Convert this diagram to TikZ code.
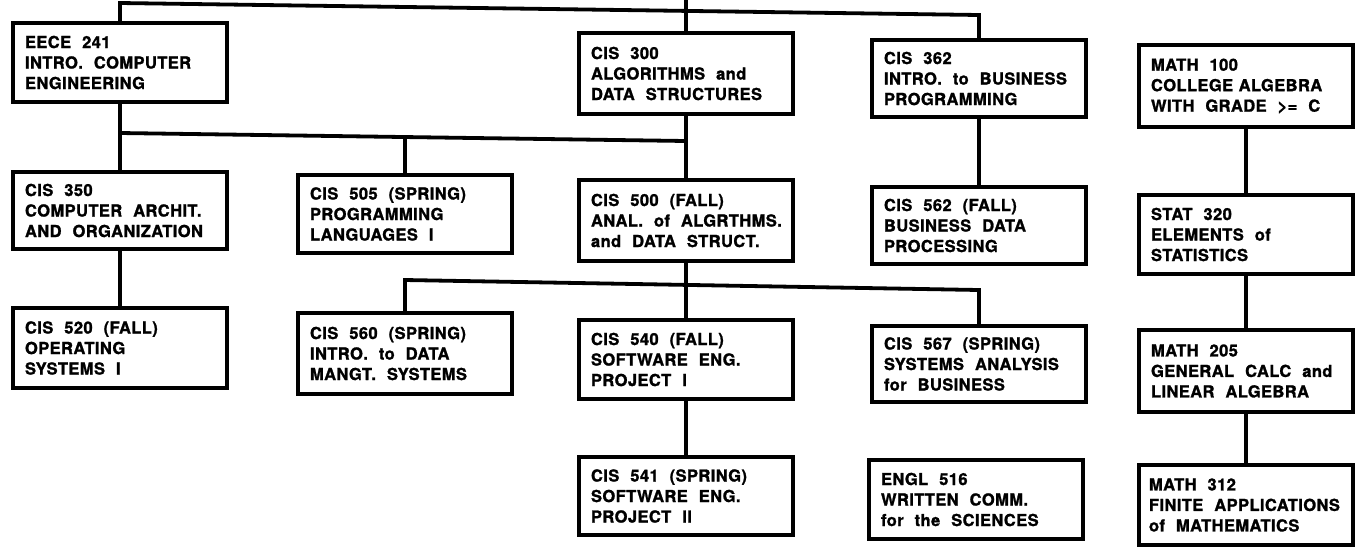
\documentclass[tikz,border=0pt]{standalone}
\usepackage{fontspec}
\setmainfont[LetterSpace=2.5,WordSpace=1.8,BoldFeatures={FakeBold=1.4}]{TeX Gyre Heros}
\hyphenpenalty=10000
\exhyphenpenalty=10000
\begin{document}
\begin{tikzpicture}[x=1pt,y=-1pt,
  box/.style={draw, line width=4pt, rectangle, anchor=north,
    inner xsep=12pt, inner ysep=3pt, align=left, text width=190pt,
    font=\fontsize{16.5}{20.5}\selectfont\bfseries},
  conn/.style={line width=3.2pt},
  bus/.style={line width=3.8pt, line join=miter}]
\useasboundingbox (0,0) rectangle (1356,550);

% first row
\node[box, minimum height=79pt] (eece) at (120,21) {EECE~~241\\INTRO.~~COMPUTER\\ENGINEERING};
\node[box, minimum height=81pt] (c300) at (686,31) {CIS~~300\\ALGORITHMS~~and\\DATA~~STRUCTURES};
\node[box, minimum height=77pt] (c362) at (979,38) {CIS~~362\\INTRO.~~to~~BUSINESS\\PROGRAMMING};
\node[box, minimum height=82pt] (m100) at (1246,43) {MATH~~100\\COLLEGE~ALGEBRA\\WITH~~GRADE~~>=~~C};

% second row
\node[box, minimum height=77pt] (c350) at (120,170) {CIS~~350\\COMPUTER~~ARCHIT.\\AND~~ORGANIZATION};
\node[box, minimum height=78pt] (c505) at (405,173) {CIS~~505~~(SPRING)\\PROGRAMMING\\LANGUAGES~~I};
\node[box, minimum height=81pt] (c500) at (686,178) {CIS~~500~~(FALL)\\\mbox{ANAL.~~of~~ALGRTHMS.}\\and~~DATA~~STRUCT.};
\node[box, minimum height=77pt] (c562) at (979,185) {CIS~~562~~(FALL)\\BUSINESS~~DATA\\PROCESSING};
\node[box, minimum height=79pt] (s320) at (1246,193) {STAT~~320\\ELEMENTS~~of\\STATISTICS};

% third row
\node[box, minimum height=80pt] (c520) at (120,306) {CIS~~520~~(FALL)\\OPERATING\\SYSTEMS~~I};
\node[box, minimum height=81pt] (c560) at (405,311) {CIS~~560~~(SPRING)\\INTRO.~~to~~DATA\\MANGT.~~SYSTEMS};
\node[box, minimum height=79pt] (c540) at (686,318) {CIS~~540~~(FALL)\\SOFTWARE~~ENG.\\PROJECT~~I};
\node[box, minimum height=76pt] (c567) at (979,324) {CIS~~567~~(SPRING)\\SYSTEMS~~ANALYSIS\\for~~BUSINESS};
\node[box, minimum height=82pt] (m205) at (1246,328) {MATH~~205\\GENERAL~~CALC~~and\\LINEAR~~ALGEBRA};

% fourth row
\node[box, minimum height=78pt] (c541) at (686,455) {CIS~~541~~(SPRING)\\SOFTWARE~~ENG.\\PROJECT~~II};
\node[box, minimum height=79pt] (e516) at (976,458) {ENGL~~516\\WRITTEN~~COMM.\\for~~the~~SCIENCES};
\node[box, minimum height=80pt, inner xsep=10pt, text width=194pt] (m312) at (1246,463) {MATH~~312\\\mbox{FINITE~~APPLICATIONS}\\of~~MATHEMATICS};

% bus junctions
\coordinate (root) at (686,0);
\coordinate (tA) at (120,3);
\coordinate (tD) at (979,15);
\coordinate (mA) at (120,133);
\coordinate (mB) at (405,137);
\coordinate (mC) at (686,141);
\coordinate (bB) at (405,280);
\coordinate (bD) at (979,290);

% top level
\draw[bus] (eece.north) -- (tA) -- (tD) -- (c362.north);
\draw[conn] (root) -- (c300.north);

% second level
\draw[conn] (eece.south) -- (c350.north);
\draw[conn] (c300.south) -- (c500.north);
\draw[bus] (mA) -- (mC);
\draw[conn] (mB) -- (c505.north);
\draw[conn] (c362.south) -- (c562.north);
\draw[conn] (m100.south) -- (s320.north);

% third level
\draw[conn] (c350.south) -- (c520.north);
\draw[conn] (c500.south) -- (c540.north);
\draw[bus] (c560.north) -- (bB) -- (bD) -- (c567.north);
\draw[conn] (s320.south) -- (m205.north);

% fourth level
\draw[conn] (c540.south) -- (c541.north);
\draw[conn] (m205.south) -- (m312.north);
\end{tikzpicture}
\end{document}
